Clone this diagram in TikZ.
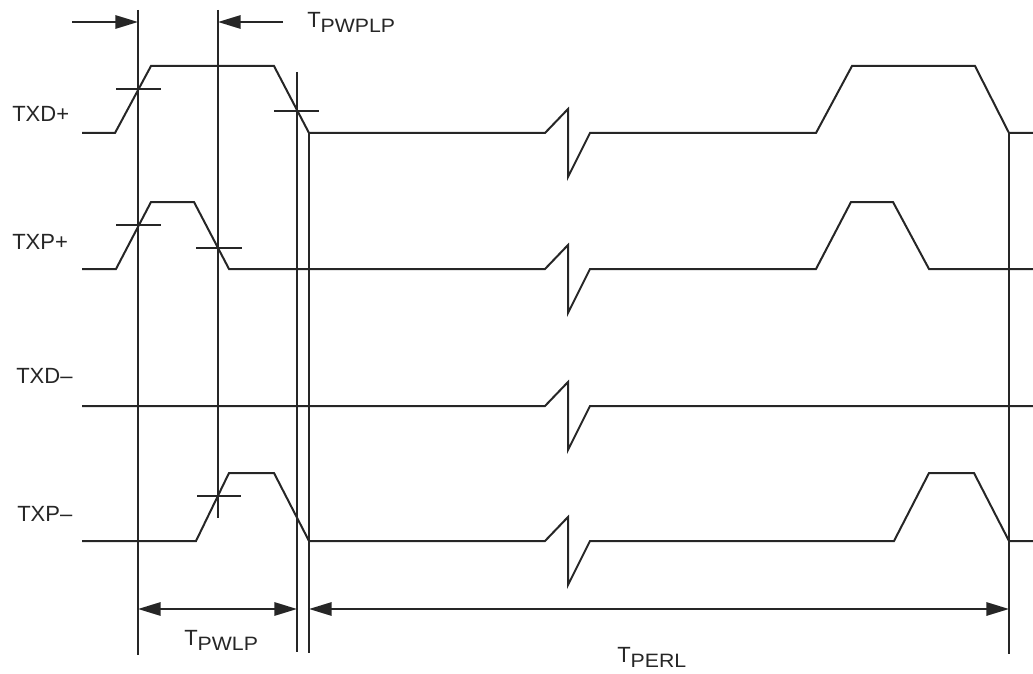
\documentclass[tikz,border=0pt]{standalone}
\usepackage{fontspec}
\setmainfont{Liberation Sans}
\newfontfamily\subfont[FakeStretch=1.1]{Liberation Sans}
\usetikzlibrary{arrows.meta}
\tikzset{
  sig/.style={line width=1.5pt, line join=miter, black!85},
  vline/.style={line width=1.5pt, black!85},
  tick/.style={line width=1.5pt, black!85},
  dim/.style={line width=1.5pt, black!85, -{Triangle[length=17pt,width=10pt]}},
  dimboth/.style={line width=1.5pt, black!85, {Triangle[length=17pt,width=10pt]}-{Triangle[length=17pt,width=10pt]}},
  lab/.style={anchor=base west, inner sep=0pt, font=\fontsize{16.5}{18}\selectfont, text=black!85},
}
\newcommand{\tsub}[2]{#1\raisebox{-3.75pt}{\subfont\fontsize{14.5}{16}\selectfont #2}}
\begin{document}
\begin{tikzpicture}[x=0.75pt,y=-0.75pt]
\useasboundingbox (0,0) rectangle (1033,674);
% coordinates of vertical lines
\coordinate (v1t) at (138,10);  \coordinate (v1b) at (138,655);
\coordinate (v2t) at (218,10);  \coordinate (v2b) at (218,518);
\coordinate (v3t) at (297,72);  \coordinate (v3b) at (297,652);
\coordinate (v4t) at (309,133); \coordinate (v4b) at (309,653);
\coordinate (v5t) at (1009,133);\coordinate (v5b) at (1009,654);
\draw[vline] (v1t) -- (v1b);
\draw[vline] (v2t) -- (v2b);
\draw[vline] (v3t) -- (v3b);
\draw[vline] (v4t) -- (v4b);
\draw[vline] (v5t) -- (v5b);
% signals
\draw[sig] (82,133) -- (115,133) -- (151,66) -- (274,66) -- (309,133) -- (545,133) -- (568,109) -- (568,177) -- (590,133) -- (816,133) -- (852,66) -- (975,66) -- (1009,133) -- (1033,133);
\draw[sig] (82,269) -- (116,269) -- (151,202) -- (194,202) -- (229,269) -- (545,269) -- (568,245) -- (568,313) -- (590,269) -- (816,269) -- (851,202) -- (893,202) -- (929,269) -- (1033,269);
\draw[sig] (82,406) -- (545,406) -- (568,382) -- (568,450) -- (590,406) -- (1033,406);
\draw[sig] (82,541) -- (196,541) -- (229,473) -- (274,473) -- (309,541) -- (545,541) -- (568,517) -- (568,585) -- (590,541) -- (894,541) -- (929,473) -- (974,473) -- (1009,541) -- (1033,541);
% cross ticks
\coordinate (c1a) at (116,89);  \coordinate (c1b) at (161,89);
\coordinate (c2a) at (274,111); \coordinate (c2b) at (319,111);
\coordinate (c3a) at (116,225); \coordinate (c3b) at (161,225);
\coordinate (c4a) at (196,248); \coordinate (c4b) at (242,248);
\coordinate (c5a) at (197,496); \coordinate (c5b) at (241,496);
\draw[tick] (c1a) -- (c1b);
\draw[tick] (c2a) -- (c2b);
\draw[tick] (c3a) -- (c3b);
\draw[tick] (c4a) -- (c4b);
\draw[tick] (c5a) -- (c5b);
% dimension arrows
\coordinate (a1s) at (72,22);   \coordinate (a1e) at (138,22);
\coordinate (a2s) at (283,22);  \coordinate (a2e) at (218,22);
\coordinate (b1s) at (138,609); \coordinate (b1e) at (297,609);
\coordinate (b2s) at (309,609); \coordinate (b2e) at (1009,609);
\draw[dim] (a1s) -- (a1e);
\draw[dim] (a2s) -- (a2e);
\draw[dimboth] (b1s) -- (b1e);
\draw[dimboth] (b2s) -- (b2e);
% labels
\node[lab] (ltxdp) at (12,122) {TXD+};
\node[lab] (ltxpp) at (12,249) {TXP+};
\node[lab] (ltxdm) at (16,383) {TXD–};
\node[lab] (ltxpm) at (17,521) {TXP–};
\node[lab] (lpwplp) at (307,28) {\tsub{T}{PWPLP}};
\node[lab] (lpwlp) at (184,645) {\tsub{T}{PWLP}};
\node[lab] (lperl) at (617,662) {\tsub{T}{PERL}};
\end{tikzpicture}
\end{document}
